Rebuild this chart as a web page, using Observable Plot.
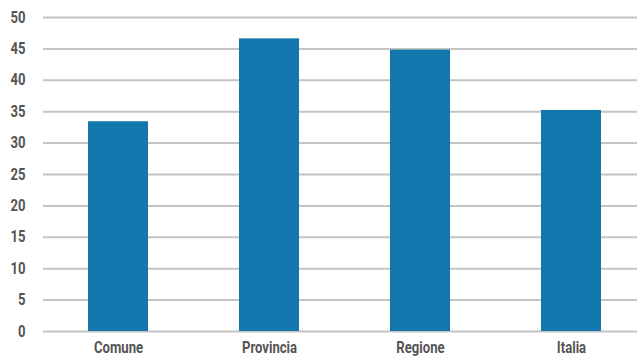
<!DOCTYPE html>
<html>
<head>
<meta charset="utf-8">
<script src="https://cdn.jsdelivr.net/npm/d3@7"></script>
<script src="https://cdn.jsdelivr.net/npm/@observablehq/plot@0.6"></script>
<style>
  html, body { margin: 0; padding: 0; background: #ffffff; }
  #chart svg { display: block; }
</style>
</head>
<body>
<div id="chart"></div>
<script>
// Area comparison: one value per territorial level
const categories = ["Comune", "Provincia", "Regione", "Italia"];
const values = [33.4, 46.6, 44.8, 35.2];
const yTicks = [0, 5, 10, 15, 20, 25, 30, 35, 40, 45, 50];

const data = categories.map((name, i) => ({name, value: values[i]}));

const font = "Roboto, 'DejaVu Sans Condensed', sans-serif";
const labelColor = "#555555";

const chart = Plot.plot({
  width: 637,
  height: 356,
  marginTop: 17,
  marginBottom: 25,
  marginLeft: 43,
  marginRight: 0,
  style: {fontFamily: font, fontSize: "16px", fontWeight: "bold", color: labelColor, background: "#ffffff"},
  x: {domain: categories, range: [42.5, 647], paddingInner: 0.6, paddingOuter: 0.3, label: null},
  y: {domain: [0, 50], label: null},
  marks: [
    Plot.ruleY(yTicks, {stroke: "#c4c4c4", strokeWidth: 2}),
    Plot.barY(data, {x: "name", y: "value", fill: "#1177ad"}),
    Plot.axisY(yTicks, {tickSize: 0, tickPadding: 18, fontSize: 16, fontWeight: "bold", fill: labelColor}),
    Plot.axisX({tickSize: 0, tickPadding: 10, fontSize: 16, fontWeight: "bold", fill: labelColor})
  ]
});

// Narrow the axis labels horizontally for a condensed look
d3.select(chart)
  .selectAll("g[aria-label$='tick label'] text")
  .attr("transform", function () {
    const t = this.getAttribute("transform") || "";
    return `${t} scale(0.82,1)`;
  });

document.getElementById("chart").appendChild(chart);
</script>
</body>
</html>
